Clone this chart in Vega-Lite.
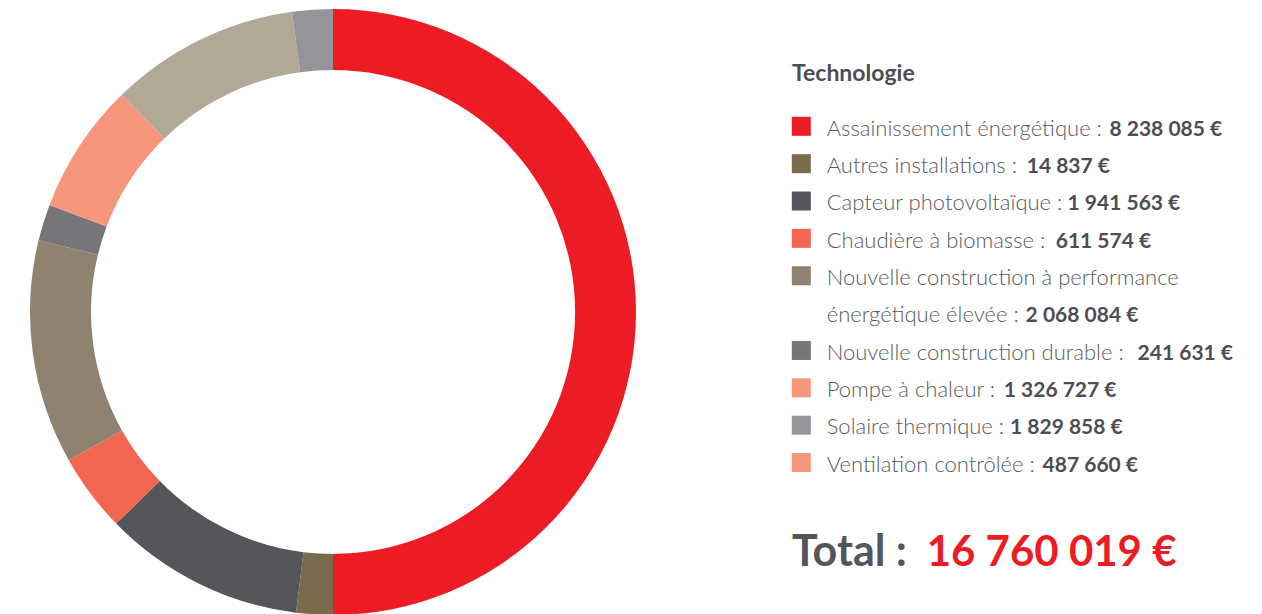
{
  "$schema": "https://vega.github.io/schema/vega-lite/v6.json",
  "padding": 0,
  "spacing": 0,
  "background": "white",
  "config": {"view": {"stroke": null}, "font": "Lato"},
  "datasets": {
    "slices": [
      {"order": 1, "segment": "Assainissement énergétique", "share": 180},
      {"order": 2, "segment": "Autres installations", "share": 7},
      {"order": 3, "segment": "Capteur photovoltaïque", "share": 38.7},
      {"order": 4, "segment": "Chaudière à biomasse", "share": 15.0},
      {"order": 5, "segment": "Nouvelle construction à performance énergétique élevée", "share": 43.0},
      {"order": 6, "segment": "Nouvelle construction durable", "share": 7.0},
      {"order": 7, "segment": "Pompe à chaleur", "share": 25.1},
      {"order": 8, "segment": "Solaire thermique", "share": 36.4},
      {"order": 9, "segment": "Ventilation contrôlée", "share": 7.8}
    ],
    "legend": [
      {"kind": "title", "line": 0, "item": null, "label": "Technologie", "amount": ""},
      {"kind": "item", "line": 1, "item": "Assainissement énergétique", "label": "Assainissement énergétique : ", "amount": "8 238 085 €"},
      {"kind": "item", "line": 2, "item": "Autres installations", "label": "Autres installations : ", "amount": "14 837 €"},
      {"kind": "item", "line": 3, "item": "Capteur photovoltaïque", "label": "Capteur photovoltaïque : ", "amount": "1 941 563 €"},
      {"kind": "item", "line": 4, "item": "Chaudière à biomasse", "label": "Chaudière à biomasse : ", "amount": "611 574 €"},
      {"kind": "item", "line": 5, "item": "Nouvelle construction à performance énergétique élevée", "label": "Nouvelle construction à performance", "amount": ""},
      {"kind": "item", "line": 6, "item": null, "label": "énergétique élevée : ", "amount": "2 068 084 €"},
      {"kind": "item", "line": 7, "item": "Nouvelle construction durable", "label": "Nouvelle construction durable  : ", "amount": "241 631 €"},
      {"kind": "item", "line": 8, "item": "Pompe à chaleur", "label": "Pompe à chaleur : ", "amount": "1 326 727 €"},
      {"kind": "item", "line": 9, "item": "Solaire thermique", "label": "Solaire thermique : ", "amount": "1 829 858 €"},
      {"kind": "item", "line": 10, "item": "Ventilation contrôlée", "label": "Ventilation contrôlée : ", "amount": "487 660 €"},
      {"kind": "total", "line": 12, "item": null, "label": "Total : ", "amount": "16 760 019 €"}
    ]
  },
  "resolve": {"scale": {"color": "independent", "x": "independent", "y": "independent"}},
  "hconcat": [
    {
      "width": 666,
      "height": 624,
      "data": {"name": "slices"},
      "mark": {"type": "arc", "innerRadius": 242, "outerRadius": 303, "strokeWidth": 0},
      "encoding": {
        "theta": {"field": "share", "type": "quantitative", "stack": true},
        "order": {"field": "order", "type": "quantitative"},
        "color": {
          "field": "segment",
          "type": "nominal",
          "legend": null,
          "scale": {
            "domain": ["Assainissement énergétique", "Autres installations", "Capteur photovoltaïque", "Chaudière à biomasse", "Nouvelle construction à performance énergétique élevée", "Nouvelle construction durable", "Pompe à chaleur", "Solaire thermique", "Ventilation contrôlée"],
            "range": ["#ED1C24", "#7A6A4E", "#54565B", "#F26651", "#8F8270", "#76767A", "#F6977D", "#B2A896", "#939598"]
          }
        }
      }
    },
    {
      "width": 596,
      "height": 614,
      "data": {"name": "legend"},
      "transform": [
        {"calculate": "0.62*length(replace(datum.label, /[^A-LN-VX-Z]/g, '')) + 0.65*length(replace(datum.label, /[^mwMW]/g, '')) + 0.27*length(replace(datum.label, /[^iljfrïî :]/g, '')) + 0.22*length(replace(datum.label, /[^t]/g, '')) + 0.57*length(replace(datum.label, /[^bdhnopquôöùûü]/g, '')) + 0.48*length(replace(datum.label, /[^acegksvxyzàâç]/g, '')) + 0.53*length(replace(datum.label, /[^éèêë]/g, ''))", "as": "em"},
        {"calculate": "datum.kind == 'total' ? (-1.556 + datum.em * 45.35 / 22.3) : datum.em + 0.1", "as": "ax"}
      ],
      "encoding": {
        "y": {"field": "line", "type": "quantitative", "axis": null, "scale": {"domain": [0, 16], "range": [88.94, 686.7], "nice": false, "zero": false}}
      },
      "layer": [
        {
          "transform": [{"filter": "datum.item != null"}],
          "mark": {"type": "square", "size": 361, "filled": true, "opacity": 1},
          "encoding": {
            "x": {"datum": -1.139, "type": "quantitative", "axis": null, "scale": {"domain": [0, 20], "range": [160.7, 606.7], "nice": false, "zero": false}},
            "color": {
              "field": "item",
              "type": "nominal",
              "legend": null,
              "scale": {
                "domain": ["Assainissement énergétique", "Autres installations", "Capteur photovoltaïque", "Chaudière à biomasse", "Nouvelle construction à performance énergétique élevée", "Nouvelle construction durable", "Pompe à chaleur", "Solaire thermique", "Ventilation contrôlée"],
                "range": ["#ED1C24", "#7A6A4E", "#54565B", "#F26651", "#8F8270", "#76767A", "#F6977D", "#939598", "#F6977D"]
              }
            }
          }
        },
        {
          "transform": [{"filter": "datum.kind == 'item'"}],
          "mark": {"type": "text", "align": "left", "baseline": "alphabetic", "dy": 9.2, "fontSize": 22, "fontWeight": 300, "color": "#5A5B5F"},
          "encoding": {
            "x": {"datum": 0, "type": "quantitative"},
            "text": {"field": "label"}
          }
        },
        {
          "transform": [{"filter": "datum.kind == 'item' && datum.amount != ''"}],
          "mark": {"type": "text", "align": "left", "baseline": "alphabetic", "dy": 9.2, "fontSize": 21, "fontWeight": "bold", "color": "#4D4E53"},
          "encoding": {
            "x": {"field": "ax", "type": "quantitative"},
            "text": {"field": "amount"}
          }
        },
        {
          "transform": [{"filter": "datum.kind == 'title'"}],
          "mark": {"type": "text", "align": "left", "baseline": "alphabetic", "dy": -7.9, "fontSize": 23, "fontWeight": "bold", "color": "#4D4E53"},
          "encoding": {
            "x": {"datum": -1.556, "type": "quantitative"},
            "text": {"field": "label"}
          }
        },
        {
          "transform": [{"filter": "datum.kind == 'total'"}],
          "mark": {"type": "text", "align": "left", "baseline": "alphabetic", "dy": 28.7, "fontSize": 43, "fontWeight": "bold", "color": "#55565B"},
          "encoding": {
            "x": {"datum": -1.556, "type": "quantitative"},
            "text": {"field": "label"}
          }
        },
        {
          "transform": [{"filter": "datum.kind == 'total'"}],
          "mark": {"type": "text", "align": "left", "baseline": "alphabetic", "dy": 28.7, "fontSize": 42, "fontWeight": "bold", "color": "#ED1C24"},
          "encoding": {
            "x": {"field": "ax", "type": "quantitative"},
            "text": {"field": "amount"}
          }
        }
      ]
    }
  ]
}
